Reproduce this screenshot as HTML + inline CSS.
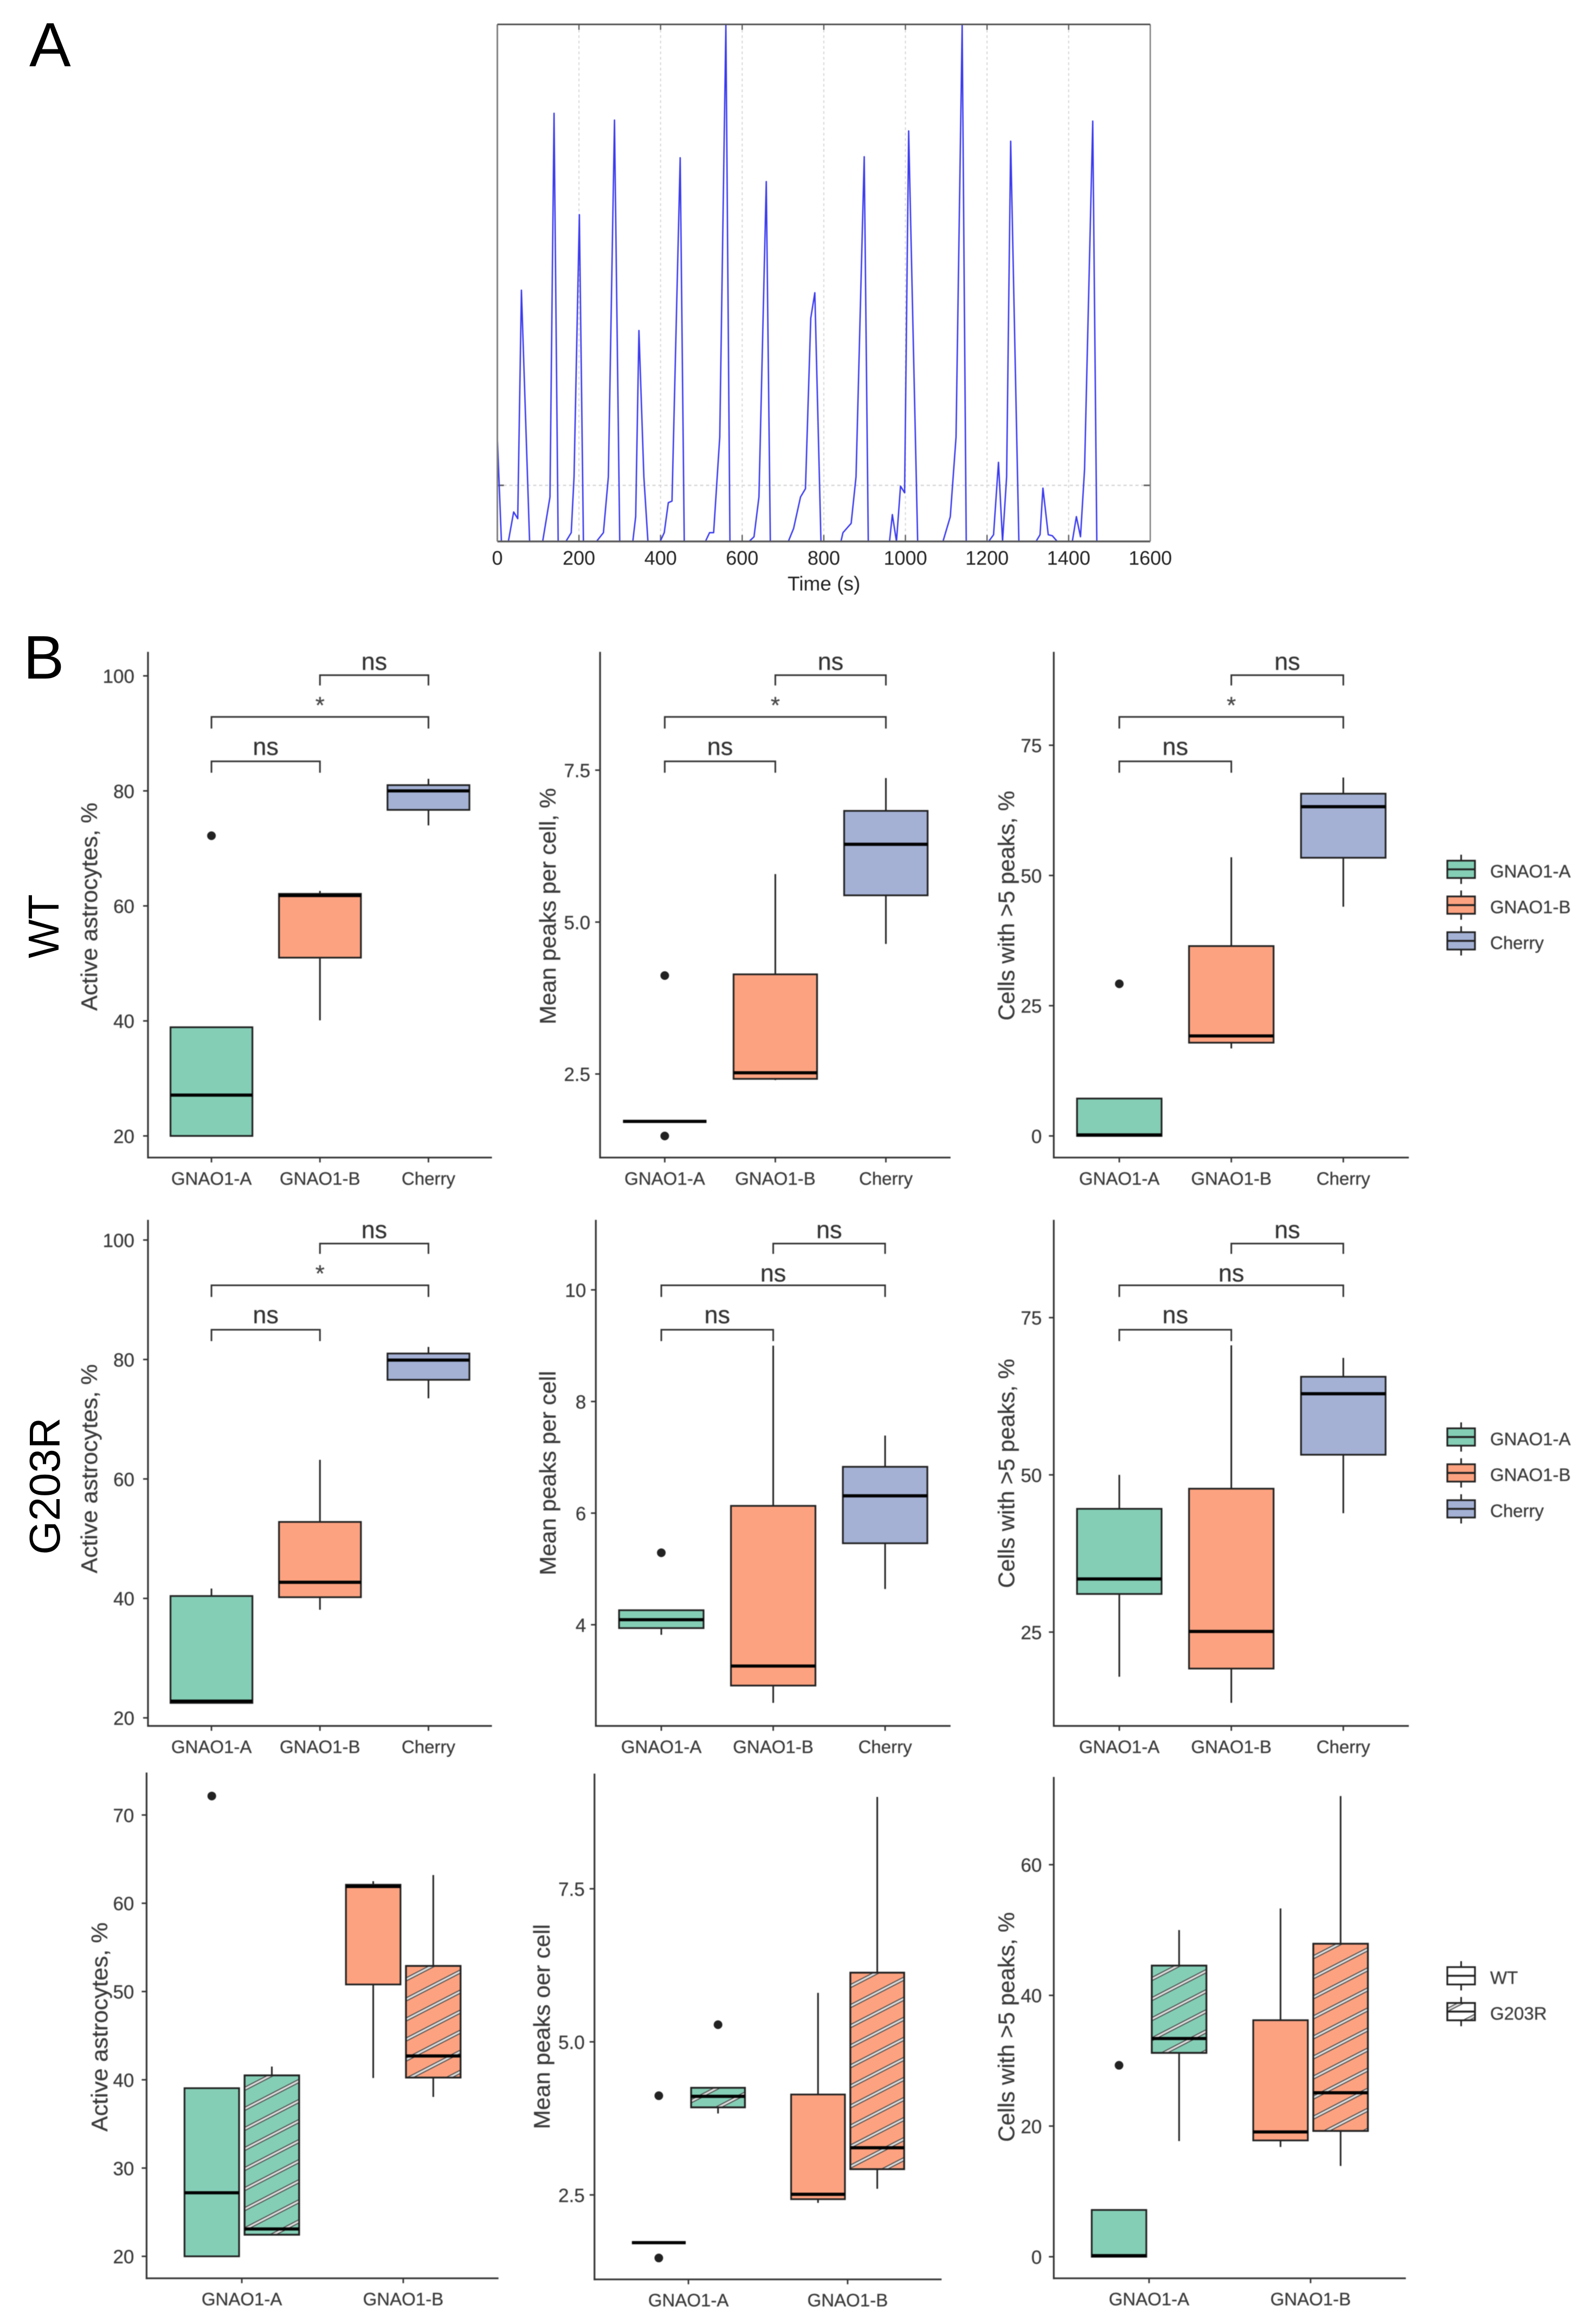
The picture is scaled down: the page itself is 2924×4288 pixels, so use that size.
<!DOCTYPE html>
<html lang="en">
<head>
<meta charset="utf-8">
<title>Astrocyte calcium activity figure</title>
<style>
html,body{margin:0;padding:0;background:#fff;}
svg{display:block;font-family:"Liberation Sans",sans-serif;}
#panelB text{stroke:#3b3b3b;stroke-width:0.35px;}
</style>
</head>
<body>
<svg id="figure" xmlns="http://www.w3.org/2000/svg" width="2924" height="4288" viewBox="0 0 2924 4288">
<rect x="0" y="0" width="2924" height="4288" fill="#ffffff"/>
<defs id="defs"></defs>
<g id="panelA" style="filter:blur(0.6px)"></g>
<g id="panelB" style="filter:blur(0.9px)"></g>
<text x="54" y="122" font-size="115" fill="#000">A</text>
<text x="43" y="1252" font-size="113" fill="#000">B</text>
<text transform="rotate(-90 108 1709)" x="108" y="1709" font-size="80" text-anchor="middle" textLength="118" lengthAdjust="spacingAndGlyphs" fill="#000">WT</text>
<text transform="rotate(-90 110 2742)" x="110" y="2742" font-size="80" text-anchor="middle" textLength="253" lengthAdjust="spacingAndGlyphs" fill="#000">G203R</text>
</svg>
<script>
// ---------- Panel A data ----------
const traceTimes = [0,10,27,40,50,59,79,111,129,139,149,168,181,188,201,211,243,260,272,287,300,332,339,347,359,369,399,409,419,428,448,458,510,520,530,545,560,570,617,629,641,659,669,713,726,743,755,768,778,793,842,847,867,879,899,909,961,968,978,988,998,1008,1030,1092,1110,1124,1139,1149,1204,1216,1228,1238,1248,1258,1278,1320,1330,1337,1350,1360,1372,1409,1419,1429,1439,1459,1469];
const traceValues = [20.15,0,0,5.7,4.4,48.6,0,0,8.6,82.8,0,0,1.7,12.5,63.2,0,0,1.7,12.5,81.5,0,0,4.8,40.8,12.5,0,0,1.7,7.5,7.8,74.2,0,0,1.7,1.7,20.2,100,0,0,0.9,8.6,69.6,0,0,2.5,8.6,10.2,43.2,48.1,0,0,1.7,3.5,12.5,74.4,0,0,5.2,0,10.7,9.4,79.4,0,0,4.8,20.2,100,0,0,1.3,15.3,0,12.5,77.4,0,0,1.3,10.3,1.3,1.1,0,0,4.8,0.9,14,81.3,0];
const traceXTicks = [0,200,400,600,800,1000,1200,1400,1600];
const traceThreshold = [10.85];

// ---------- Shared categories ----------
const categoriesThree = ['GNAO1-A','GNAO1-B','Cherry'];
const categoriesTwo = ['GNAO1-A','GNAO1-B'];
const comboGroup = [0,0,1,1];
const comboGenotype = ['WT','G203R','WT','G203R'];

// ---------- WT row ----------
const wtActiveTicks = ['20','40','60','80','100'];
const wtActiveQ1 = [20,51,76.7];
const wtActiveMedian = [27.1,61.8,80];
const wtActiveQ3 = [38.9,62.1,81];
const wtActiveLow = [null,40.1,74];
const wtActiveHigh = [null,62.6,82.1];
const wtActiveOutliers = [[72.2],[],[]];
const wtActiveSig = ['ns','*','ns'];

const wtPeaksTicks = ['2.5','5.0','7.5'];
const wtPeaksQ1 = [1.72,2.42,5.44];
const wtPeaksMedian = [1.72,2.52,6.28];
const wtPeaksQ3 = [1.72,4.14,6.83];
const wtPeaksLow = [null,2.4,4.64];
const wtPeaksHigh = [null,5.79,7.37];
const wtPeaksOutliers = [[4.12,1.48],[],[]];
const wtPeaksSig = ['ns','*','ns'];

const wtCellsTicks = ['0','25','50','75'];
const wtCellsQ1 = [0,17.9,53.4];
const wtCellsMedian = [0.2,19.2,63.2];
const wtCellsQ3 = [7.18,36.45,65.7];
const wtCellsLow = [null,16.8,44];
const wtCellsHigh = [null,53.5,68.8];
const wtCellsOutliers = [[29.2],[],[]];
const wtCellsSig = ['ns','*','ns'];

// ---------- G203R row ----------
const mutActiveTicks = ['20','40','60','80','100'];
const mutActiveQ1 = [22.5,40.2,76.6];
const mutActiveMedian = [22.8,42.7,79.9];
const mutActiveQ3 = [40.4,52.8,81];
const mutActiveLow = [null,38.1,73.5];
const mutActiveHigh = [41.65,63.2,82.1];
const mutActiveOutliers = [[],[],[]];
const mutActiveSig = ['ns','*','ns'];

const mutPeaksTicks = ['4','6','8','10'];
const mutPeaksQ1 = [3.94,2.91,5.46];
const mutPeaksMedian = [4.09,3.26,6.31];
const mutPeaksQ3 = [4.26,6.13,6.83];
const mutPeaksLow = [3.82,2.6,4.64];
const mutPeaksHigh = [null,9,7.39];
const mutPeaksOutliers = [[5.29],[],[]];
const mutPeaksSig = ['ns','ns','ns'];

const mutCellsTicks = ['25','50','75'];
const mutCellsQ1 = [31.06,19.2,53.2];
const mutCellsMedian = [33.45,25.1,62.9];
const mutCellsQ3 = [44.6,47.8,65.6];
const mutCellsLow = [17.9,13.75,43.9];
const mutCellsHigh = [50,70.6,68.6];
const mutCellsOutliers = [[],[],[]];
const mutCellsSig = ['ns','ns','ns'];

// ---------- Combined row (A-WT, A-G203R, B-WT, B-G203R) ----------
const comboActiveTicks = ['20','30','40','50','60','70'];
const comboActiveQ1 = [20,22.45,50.8,40.25];
const comboActiveMedian = [27.2,23.1,61.9,42.7];
const comboActiveQ3 = [39.05,40.5,62.1,52.9];
const comboActiveLow = [null,null,40.2,38.06];
const comboActiveHigh = [null,41.5,62.5,63.2];
const comboActiveOutliers = [[72.15],[],[],[]];

const comboPeaksTicks = ['2.5','5.0','7.5'];
const comboPeaksQ1 = [1.72,3.93,2.43,2.92];
const comboPeaksMedian = [1.72,4.11,2.51,3.27];
const comboPeaksQ3 = [1.72,4.25,4.14,6.13];
const comboPeaksLow = [null,3.83,2.37,2.6];
const comboPeaksHigh = [null,null,5.8,9];
const comboPeaksOutliers = [[4.12,1.47],[5.28],[],[]];

const comboCellsTicks = ['0','20','40','60'];
const comboCellsQ1 = [0,31.2,17.8,19.25];
const comboCellsMedian = [0.17,33.4,19.1,25.1];
const comboCellsQ3 = [7.16,44.56,36.2,47.9];
const comboCellsLow = [null,17.7,16.8,13.9];
const comboCellsHigh = [null,50,53.3,70.5];
const comboCellsOutliers = [[29.3],[],[],[]];

// ---------- Styling / layout ----------
const SVGNS = 'http://www.w3.org/2000/svg';
const COLORS = {'GNAO1-A':'#84ceb6','GNAO1-B':'#fda280','Cherry':'#a4b1d5'};
const INK = '#222222';
const LABEL = '#3b3b3b';
const groupA = document.getElementById('panelA');
const groupB = document.getElementById('panelB');
const defs = document.getElementById('defs');
let patternCount = 0;

function mk(tag, attrs, parent) {
  const el = document.createElementNS(SVGNS, tag);
  for (const k in attrs) el.setAttribute(k, attrs[k]);
  parent.appendChild(el);
  return el;
}

// ---------- Panel A ----------
(function drawTrace() {
  const L = 917.5, R = 2122, T = 45, B = 999;
  const x = t => L + (t / 1600) * (R - L);
  const y = v => B - (v / 100) * (B - T);
  traceXTicks.forEach(t => {
    if (t > 0 && t < 1600) {
      const g = mk('line', {x1:x(t),x2:x(t),y1:T,y2:B,stroke:'#d8d8d8','stroke-width':2,'stroke-dasharray':'5 5'}, groupA);
      
      
      const m = mk('line', {x1:x(t),x2:x(t),y1:T,y2:T+10,stroke:'#666','stroke-width':2.5}, groupA);
      
      
      const n = mk('line', {x1:x(t),x2:x(t),y1:B-12,y2:B,stroke:'#666','stroke-width':2.5}, groupA);
      
      
    }
    const lab = mk('text', {x:x(t),y:1042,'font-size':36,'text-anchor':'middle',fill:'#222'}, groupA);
    lab.textContent = String(t);
    
    
  });
  traceThreshold.forEach(v => {
    const th = mk('line', {x1:L,x2:R,y1:y(v),y2:y(v),stroke:'#d8d8d8','stroke-width':2.5,'stroke-dasharray':'6 5'}, groupA);
    
    
    const a = mk('rect', {x:L,y:y(v)-1.5,width:12,height:3,fill:'#666'}, groupA);
    
    
    const b = mk('rect', {x:R-12,y:y(v)-1.5,width:12,height:3,fill:'#666'}, groupA);
    
    
  });
  const pts = traceTimes.map((t, i) => x(t).toFixed(1) + ',' + y(traceValues[i]).toFixed(1)).join(' ');
  const line = mk('polyline', {points:pts,fill:'none',stroke:'#3a3af0','stroke-width':2.6,'stroke-linejoin':'round'}, groupA);
  
  
  const base = mk('line', {x1:L,x2:R,y1:B,y2:B,stroke:'#5a5a5a','stroke-width':3.5}, groupA);
  
  
  const frameL = mk('line', {x1:L,x2:L,y1:T,y2:B,stroke:'#808080','stroke-width':3}, groupA);
  
  
  const frameR = mk('line', {x1:R,x2:R,y1:T,y2:B,stroke:'#808080','stroke-width':2.5}, groupA);
  
  
  const frameT = mk('line', {x1:L,x2:R,y1:T,y2:T,stroke:'#555','stroke-width':3}, groupA);
  
  
  const title = mk('text', {x:1520,y:1089.5,'font-size':37,'text-anchor':'middle',fill:'#222'}, groupA);
  title.textContent = 'Time (s)';
  
  
})();

// ---------- Panel B helpers ----------
function hatchPattern(x, y) {
  patternCount += 1;
  const id = 'hatch' + patternCount;
  const p = mk('pattern', {id:id,patternUnits:'userSpaceOnUse',width:20,height:37,patternTransform:'translate(' + x + ' ' + y + ') skewY(-27.3)'}, defs);
  mk('rect', {x:0,y:23,width:20,height:4,fill:'#dcdcdc'}, p);
  mk('rect', {x:0,y:21,width:20,height:2,fill:'#4a4a4a'}, p);
  mk('rect', {x:0,y:27,width:20,height:2,fill:'#4a4a4a'}, p);
  return id;
}

function drawBox(g, name, cx, w, yf, q1, med, q3, low, high, outliers, outlierX, fill, hatched) {
  if (high !== null) {
    const wh = mk('line', {x1:cx,x2:cx,y1:yf(q3),y2:yf(high),stroke:INK,'stroke-width':3}, g);
    
    
  }
  if (low !== null) {
    const wl = mk('line', {x1:cx,x2:cx,y1:yf(q1),y2:yf(low),stroke:INK,'stroke-width':3}, g);
    
    
  }
  if (q3 > q1) {
    const box = mk('rect', {x:cx-w/2,y:yf(q3),width:w,height:yf(q1)-yf(q3),fill:fill,stroke:INK,'stroke-width':3.2}, g);
    
    
    if (hatched) {
      const pid = hatchPattern(cx - w/2, yf(q3));
      const h = mk('rect', {x:cx-w/2,y:yf(q3),width:w,height:yf(q1)-yf(q3),fill:'url(#' + pid + ')',stroke:INK,'stroke-width':3.2}, g);
      
      
    }
  }
  const m = mk('line', {x1:cx-w/2,x2:cx+w/2,y1:yf(med),y2:yf(med),stroke:'#000','stroke-width':5.8}, g);
  
  
  outliers.forEach((v, i) => {
    const c = mk('circle', {cx:outlierX,cy:yf(v),r:8,fill:'#222'}, g);
    
    
  });
}

function drawAxes(g, p, xf, yf, cats) {
  const ya = mk('line', {x1:p.left,x2:p.left,y1:p.top,y2:p.bottom+1.5,stroke:'#333','stroke-width':3.2}, g);
  
  
  const xa = mk('line', {x1:p.left-1.5,x2:p.right,y1:p.bottom,y2:p.bottom,stroke:'#333','stroke-width':3.2}, g);
  
  
  p.ticks.forEach(t => {
    const yy = yf(parseFloat(t));
    const tick = mk('line', {x1:p.left-9,x2:p.left,y1:yy,y2:yy,stroke:'#333','stroke-width':2.8}, g);
    
    
    const lab = mk('text', {x:p.left-p.tickGap,y:yy+13,'font-size':35,'text-anchor':'end',fill:LABEL}, g);
    lab.textContent = t;
    
    
  });
  cats.forEach((c, i) => {
    const xx = xf(i);
    const tick = mk('line', {x1:xx,x2:xx,y1:p.bottom,y2:p.bottom+9,stroke:'#333','stroke-width':2.8}, g);
    
    
    const lab = mk('text', {x:xx,y:p.bottom+50,'font-size':33,'text-anchor':'middle',fill:LABEL}, g);
    lab.textContent = c;
    
    
  });
  const title = mk('text', {x:p.titleX,y:p.titleY,'font-size':42,'text-anchor':'middle',fill:LABEL,transform:'rotate(-90 ' + p.titleX + ' ' + p.titleY + ')',textLength:p.titleLen,lengthAdjust:'spacingAndGlyphs'}, g);
  title.textContent = p.title;
  
  
}

function drawBracket(g, p, xf, a, b, level, label, key) {
  const yy = p.bottom + level.offset;
  const path = mk('path', {d:'M' + xf(a) + ' ' + (yy + level.tip) + 'V' + yy + 'H' + xf(b) + 'V' + (yy + level.tip),fill:'none',stroke:'#333','stroke-width':3}, g);
  
  
  const isStar = label === '*';
  const t = mk('text', {x:(xf(a) + xf(b)) / 2,y:p.bottom + level.text,'font-size':isStar ? 44 : 45,'text-anchor':'middle',fill:isStar ? '#4a4a4a' : '#333'}, g);
  t.textContent = label;
  
  
}

const LEVEL_LOW = {offset:-731,tip:21,text:-743};
const LEVEL_MID = {offset:-813,tip:21.5,text:-820};
const LEVEL_TOP = {offset:-890,tip:19,text:-900};

function drawThreeGroup(p) {
  const g = mk('g', {}, groupB);
  
  
  const unit = (p.right - p.left) / (categoriesThree.length - 1 + 2 * 0.585);
  const xf = i => p.left + (i + 0.585) * unit;
  const yf = v => p.bottom - (v - p.domain[0]) / (p.domain[1] - p.domain[0]) * (p.bottom - p.top);
  drawAxes(g, p, xf, yf, categoriesThree);
  categoriesThree.forEach((c, i) => {
    drawBox(g, p.name + '-' + c.toLowerCase(), xf(i), unit * 0.755, yf, p.q1[i], p.median[i], p.q3[i], p.low[i], p.high[i], p.outliers[i], xf(i), COLORS[c], false);
  });
  drawBracket(g, p, xf, 0, 1, LEVEL_LOW, p.sig[0], 'a-b');
  drawBracket(g, p, xf, 0, 2, LEVEL_MID, p.sig[1], 'a-cherry');
  drawBracket(g, p, xf, 1, 2, LEVEL_TOP, p.sig[2], 'b-cherry');
}

function drawCombined(p) {
  const g = mk('g', {}, groupB);
  
  
  const unit = (p.right - p.left) / (categoriesTwo.length - 1 + 2 * 0.59);
  const xf = i => p.left + (i + 0.59) * unit;
  const yf = v => p.bottom - (v - p.domain[0]) / (p.domain[1] - p.domain[0]) * (p.bottom - p.top);
  drawAxes(g, p, xf, yf, categoriesTwo);
  comboGroup.forEach((grp, i) => {
    const geno = comboGenotype[i];
    const sign = geno === 'WT' ? -1 : 1;
    const cx = xf(grp) + sign * unit * 0.186;
    const name = p.name + '-' + categoriesTwo[grp].toLowerCase() + '-' + geno.toLowerCase();
    drawBox(g, name, cx, unit * 0.338, yf, p.q1[i], p.median[i], p.q3[i], p.low[i], p.high[i], p.outliers[i], cx, COLORS[categoriesTwo[grp]], geno === 'G203R');
  });
}

function legendKey(parent, name, top, fill, hatched, label) {
  const g = mk('g', {}, parent);
  
  
  const x0 = 2670, w = 51, h = 32, cx = x0 + w / 2;
  const wh = mk('line', {x1:cx,x2:cx,y1:top-11,y2:top+h+11,stroke:INK,'stroke-width':3}, g);
  
  
  const box = mk('rect', {x:x0,y:top,width:w,height:h,fill:fill,stroke:INK,'stroke-width':3.2}, g);
  
  
  if (hatched) {
    const pid = hatchPattern(x0, top - 12);
    const hb = mk('rect', {x:x0,y:top,width:w,height:h,fill:'url(#' + pid + ')',stroke:INK,'stroke-width':3.2}, g);
    
    
  }
  const m = mk('line', {x1:x0,x2:x0+w,y1:top+h/2,y2:top+h/2,stroke:INK,'stroke-width':3.6}, g);
  
  
  const t = mk('text', {x:2749,y:top+h-1,'font-size':33,fill:LABEL}, g);
  t.textContent = label;
  
  
}

// ---------- Panels ----------
drawThreeGroup({name:'wt-active',left:273,right:907.5,top:1202.7,bottom:2135.8,domain:[16.24,104.18],ticks:wtActiveTicks,tickGap:25,title:'Active astrocytes, %',titleX:179,titleY:1673,titleLen:384,q1:wtActiveQ1,median:wtActiveMedian,q3:wtActiveQ3,low:wtActiveLow,high:wtActiveHigh,outliers:wtActiveOutliers,sig:wtActiveSig});
drawThreeGroup({name:'wt-peaks',left:1107,right:1753.6,top:1202.7,bottom:2135.8,domain:[1.125,9.447],ticks:wtPeaksTicks,tickGap:18,title:'Mean peaks per cell, %',titleX:1025,titleY:1672,titleLen:436,q1:wtPeaksQ1,median:wtPeaksMedian,q3:wtPeaksQ3,low:wtPeaksLow,high:wtPeaksHigh,outliers:wtPeaksOutliers,sig:wtPeaksSig});
drawThreeGroup({name:'wt-cells',left:1944,right:2599,top:1202.7,bottom:2135.8,domain:[-4.15,92.93],ticks:wtCellsTicks,tickGap:22,title:'Cells with >5 peaks, %',titleX:1871,titleY:1671,titleLen:424,q1:wtCellsQ1,median:wtCellsMedian,q3:wtCellsQ3,low:wtCellsLow,high:wtCellsHigh,outliers:wtCellsOutliers,sig:wtCellsSig});

drawThreeGroup({name:'g203r-active',left:273,right:907.5,top:2250.7,bottom:3184.5,domain:[18.65,103.38],ticks:mutActiveTicks,tickGap:25,title:'Active astrocytes, %',titleX:179,titleY:2710,titleLen:386,q1:mutActiveQ1,median:mutActiveMedian,q3:mutActiveQ3,low:mutActiveLow,high:mutActiveHigh,outliers:mutActiveOutliers,sig:mutActiveSig});
drawThreeGroup({name:'g203r-peaks',left:1099.2,right:1753.6,top:2250.7,bottom:3184.5,domain:[2.187,11.255],ticks:mutPeaksTicks,tickGap:18,title:'Mean peaks per cell',titleX:1025,titleY:2718,titleLen:377,q1:mutPeaksQ1,median:mutPeaksMedian,q3:mutPeaksQ3,low:mutPeaksLow,high:mutPeaksHigh,outliers:mutPeaksOutliers,sig:mutPeaksSig});
drawThreeGroup({name:'g203r-cells',left:1944,right:2599,top:2250.7,bottom:3184.5,domain:[10.08,90.55],ticks:mutCellsTicks,tickGap:22,title:'Cells with >5 peaks, %',titleX:1871,titleY:2718.6,titleLen:423,q1:mutCellsQ1,median:mutCellsMedian,q3:mutCellsQ3,low:mutCellsLow,high:mutCellsHigh,outliers:mutCellsOutliers,sig:mutCellsSig});

drawCombined({name:'combined-active',left:270.4,right:919.6,top:3270.5,bottom:4203.7,domain:[17.51,74.81],ticks:comboActiveTicks,tickGap:23,title:'Active astrocytes, %',titleX:198,titleY:3740,titleLen:386,q1:comboActiveQ1,median:comboActiveMedian,q3:comboActiveQ3,low:comboActiveLow,high:comboActiveHigh,outliers:comboActiveOutliers});
drawCombined({name:'combined-peaks',left:1096.7,right:1737,top:3272.5,bottom:4205.7,domain:[1.12,9.381],ticks:comboPeaksTicks,tickGap:18,title:'Mean peaks oer cell',titleX:1014,titleY:3739.4,titleLen:378,q1:comboPeaksQ1,median:comboPeaksMedian,q3:comboPeaksQ3,low:comboPeaksLow,high:comboPeaksHigh,outliers:comboPeaksOutliers});
drawCombined({name:'combined-cells',left:1944,right:2593.5,top:3278.6,bottom:4203.7,domain:[-3.3,73.43],ticks:comboCellsTicks,tickGap:22,title:'Cells with >5 peaks, %',titleX:1871,titleY:3740,titleLen:424,q1:comboCellsQ1,median:comboCellsMedian,q3:comboCellsQ3,low:comboCellsLow,high:comboCellsHigh,outliers:comboCellsOutliers});

// ---------- Legends ----------
legendKey(groupB, 'wt-legend-gnao1-a', 1588, COLORS['GNAO1-A'], false, 'GNAO1-A');
legendKey(groupB, 'wt-legend-gnao1-b', 1654, COLORS['GNAO1-B'], false, 'GNAO1-B');
legendKey(groupB, 'wt-legend-cherry', 1720, COLORS['Cherry'], false, 'Cherry');
legendKey(groupB, 'g203r-legend-gnao1-a', 2635.4, COLORS['GNAO1-A'], false, 'GNAO1-A');
legendKey(groupB, 'g203r-legend-gnao1-b', 2701.7, COLORS['GNAO1-B'], false, 'GNAO1-B');
legendKey(groupB, 'g203r-legend-cherry', 2768, COLORS['Cherry'], false, 'Cherry');
legendKey(groupB, 'combined-legend-wt', 3629.5, '#ffffff', false, 'WT');
legendKey(groupB, 'combined-legend-g203r', 3695.6, '#ffffff', true, 'G203R');
</script>
</body>
</html>
